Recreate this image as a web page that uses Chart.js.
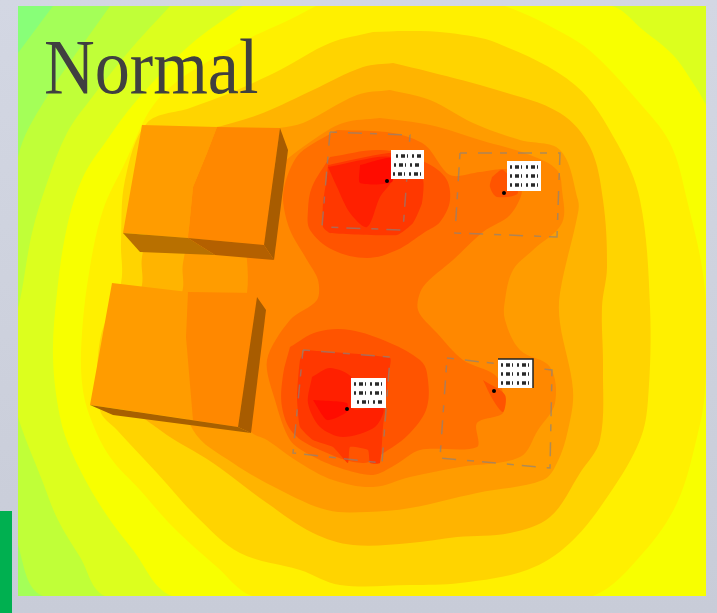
<!DOCTYPE html>
<html>
<head>
<meta charset="utf-8">
<title>Normal</title>
<script src="https://cdn.jsdelivr.net/npm/chart.js@4"></script>
<style>
html, body { margin: 0; padding: 0; width: 717px; height: 613px; overflow: hidden; }
body { position: relative; background: linear-gradient(#d3d7e3, #c8ccd8); }
#wrap { position: absolute; left: 18px; top: 6px; width: 688px; height: 590px; filter: blur(0.6px); }
#title { position: absolute; left: 44px; top: 28px; font: 78px/78px "Liberation Serif", serif; color: #404040;
         transform: scaleX(0.9); transform-origin: left top; white-space: nowrap; }
#bar { position: absolute; left: 0; top: 511px; width: 12px; height: 102px; background: #00b050; }
</style>
</head>
<body>
<div id="wrap"><canvas id="heatChart" width="688" height="590"></canvas></div>
<div id="title">Normal</div>
<div id="bar"></div>
<script>
// ==========================================
// Signal level contours, outermost first
// x / y in plan units of the plot
// ==========================================

const levelBase = [[-40,-40],[760,-40],[760,650],[-40,650]];
const cornerTopLeft = [[-40,-40],[53,6],[18,53]];
const levelB = [[110,6],[400,-40],[760,-40],[760,650],[300,650],[43,596],[18,545],[-20,400],[18,157],[45,100]];
const levelC = [[170,6],[400,-40],[760,-40],[760,650],[300,650],[105,596],[80,557],[58,520],[42,480],[18,417],[5,360],[20,300],[32,233],[47,183],[67,133],[90,100],[130,50]];
const levelD = [[243,6],[400,-40],[612,6],[643,30],[673,55],[693,83],[706,105],[750,200],[750,650],[400,650],[172,596],[133,550],[100,505],[72,453],[60,417],[53,357],[57,293],[67,227],[83,177],[107,140],[137,100],[190,45]];
const levelE = [[316,6],[410,-20],[505,6],[570,37],[597,57],[637,100],[670,143],[687,200],[705,290],[705,390],[697,437],[677,503],[643,553],[593,596],[420,640],[252,596],[217,567],[173,527],[140,490],[110,457],[90,417],[82,383],[82,333],[90,267],[103,210],[123,167],[160,97],[233,47],[293,18]];
const levelF = [[373,32],[410,31],[450,33],[497,43],[575,85],[617,143],[640,200],[650,307],[648,400],[640,440],[610,493],[570,543],[527,570],[460,583],[410,585],[340,585],[300,570],[240,553],[197,517],[157,473],[117,430],[100,410],[100,340],[121,283],[121,243],[125,180],[147,123],[190,108],[230,93],[280,70],[330,43]];
const levelG = [[393,63],[430,72],[497,90],[560,113],[590,147],[603,200],[607,267],[602,307],[603,367],[600,440],[580,473],[550,517],[510,533],[457,537],[410,543],[353,545],[313,533],[267,503],[213,463],[160,430],[130,400],[130,320],[142,285],[142,257],[160,180],[190,135],[225,125],[263,113],[313,90],[363,67]];
const levelH = [[390,90],[430,100],[473,123],[520,140],[560,150],[578,200],[578,213],[560,293],[560,323],[573,390],[568,430],[557,463],[543,480],[477,493],[410,508],[367,512],[327,510],[280,490],[233,463],[193,430],[170,350],[183,288],[183,263],[200,200],[260,135],[303,123],[357,95]];
const levelI = [[380,118],[430,125],[480,140],[530,155],[557,170],[562,190],[562,223],[533,250],[513,270],[505,300],[505,320],[520,350],[550,367],[555,403],[538,430],[520,457],[460,467],[410,477],[373,487],[333,480],[300,463],[267,440],[250,430],[235,350],[247,293],[247,260],[240,200],[280,165],[313,140],[343,123]];
const levelJ = [[337,130],[393,133],[425,145],[450,175],[480,172],[510,170],[522,190],[510,215],[483,232],[453,260],[423,287],[418,310],[437,333],[463,360],[495,375],[503,393],[503,413],[477,423],[477,447],[420,450],[395,465],[373,475],[340,468],[310,455],[290,440],[275,400],[267,360],[290,320],[317,300],[318,280],[307,260],[290,230],[283,200],[287,177],[300,153]];
const upperLeftOuter = [[330,157],[380,150],[420,160],[445,177],[450,200],[440,222],[425,232],[397,250],[367,258],[333,250],[310,230],[308,210],[312,187]];
const lowerLeftOuter = [[290,347],[317,332],[350,330],[390,343],[420,360],[427,373],[427,407],[410,433],[385,452],[363,463],[320,450],[293,433],[282,407],[283,375]];
const upperRightSpot = [[492,177],[503,170],[518,193],[497,197],[490,187]];
const lowerRightSpot = [[483,380],[505,395],[503,412],[493,400]];
const upperLeftInner = [[328,165],[393,153],[423,180],[422,203],[413,223],[397,235],[330,233],[323,227],[323,203],[327,177]];
const lowerLeftInner = [[305,350],[390,358],[388,377],[385,410],[383,427],[380,463],[370,463],[368,450],[350,447],[348,463],[333,447],[313,440],[300,427],[297,397],[300,360]];
const upperLeftHot = [[328,167],[392,157],[392,180],[380,197],[367,227],[350,213],[337,187]];
const lowerLeftHot = [[312,377],[330,368],[352,378],[352,408],[383,408],[375,427],[343,437],[320,427],[308,403]];
const upperLeftPeak = [[360,165],[392,158],[392,182],[360,183]];
const lowerLeftPeak = [[313,400],[347,403],[347,412],[327,420]];

const contourSeries = [levelBase, cornerTopLeft, levelB, levelC, levelD, levelE, levelF, levelG, levelH, levelI, levelJ,
    upperLeftOuter, lowerLeftOuter, upperRightSpot, lowerRightSpot, upperLeftInner, lowerLeftInner,
    upperLeftHot, lowerLeftHot, upperLeftPeak, lowerLeftPeak];
const contourColors = ["#a4ff58", "#88ff78", "#c0ff38", "#dcff1e", "#f8ff00", "#fff000", "#ffd400", "#ffb400", "#ff9c00", "#ff8800", "#ff7000",
    "#ff5400", "#ff5400", "#ff5400", "#ff5400", "#ff3800", "#ff3800",
    "#ff2000", "#ff2000", "#ff0c00", "#ff0c00"];
const contourTension = [0, 0, 0.35, 0.35, 0.35, 0.35, 0.35, 0.35, 0.35, 0.35, 0.3,
    0.35, 0.35, 0.3, 0.3, 0.15, 0.15,
    0.3, 0.3, 0.2, 0.2];

// Blocks, drawn as flat shapes over the contours
const upperRoofLeft = [[142,125],[217,127],[207,153],[193,187],[188,238],[123,233]];
const upperRoofRight = [[217,127],[280,128],[264,245],[188,238],[193,187],[207,153]];
const upperSide = [[280,128],[288,150],[274,260],[264,245]];
const upperFrontLeft = [[123,233],[188,238],[215,255],[140,252]];
const upperFrontRight = [[188,238],[264,245],[274,260],[215,255]];
const lowerRoofLeft = [[112,283],[188,292],[186,337],[193,420],[90,405]];
const lowerRoofRight = [[188,292],[257,293],[238,427],[193,420],[186,337]];
const lowerSide = [[257,297],[266,310],[251,433],[238,427]];
const lowerFront = [[90,405],[238,427],[251,433],[113,415]];

const blockSeries = [upperRoofLeft, upperRoofRight, upperSide, upperFrontLeft, upperFrontRight, lowerRoofLeft, lowerRoofRight, lowerSide, lowerFront];
const blockColors = ["#ff9c00", "#ff8800", "#a85c00", "#b87000", "#b46000", "#ff9c00", "#ff8800", "#a85c00", "#a86000"];

// Room outlines
const roomUpperLeft = [[330,132],[410,135],[403,230],[322,227],[330,132]];
const roomUpperRight = [[460,153],[560,153],[557,237],[455,233],[460,153]];
const roomLowerLeft = [[303,350],[390,357],[382,463],[293,453],[303,350]];
const roomLowerRight = [[447,358],[552,370],[550,468],[440,458],[447,358]];
const roomSeries = [roomUpperLeft, roomUpperRight, roomLowerLeft, roomLowerRight];

// Callout boxes and the points they mark
const calloutBoxes = [
    [[391,150],[424,150],[424,179],[391,179]],
    [[507,161],[541,161],[541,191],[507,191]],
    [[351,378],[386,378],[386,408],[351,408]],
    [[498,359],[533,359],[533,388],[498,388]]
];
const calloutMarks = [[387,181],[504,193],[347,409],[494,391]];
const calloutRows = [
    [[396,156],[421,156]], [[394,165],[421,165]], [[393,174],[422,174]],
    [[510,167],[538,167]], [[510,176],[538,176]], [[510,185],[538,185]],
    [[354,384],[383,384]], [[354,393],[383,393]], [[357,402],[383,402]],
    [[501,365],[530,365]], [[501,374],[530,374]], [[501,383],[530,383]]
];
const calloutEdge = [[498,359],[533,359],[533,388]];

const toPoints = function(list) {
    return list.map(function(p) { return {x: p[0], y: p[1]}; });
};
const closed = function(list) {
    return toPoints(list.concat([list[0]]));
};

const datasets = [];

contourSeries.forEach(function(series, i) {
    datasets.push({
        data: closed(series),
        showLine: true,
        fill: "shape",
        backgroundColor: contourColors[i],
        borderWidth: 0,
        pointRadius: 0,
        tension: contourTension[i]
    });
});

blockSeries.forEach(function(series, i) {
    datasets.push({
        data: closed(series),
        showLine: true,
        fill: "shape",
        backgroundColor: blockColors[i],
        borderWidth: 0,
        pointRadius: 0,
        tension: 0
    });
});

roomSeries.forEach(function(series) {
    datasets.push({
        data: toPoints(series),
        showLine: true,
        fill: false,
        borderColor: "rgba(130,130,130,0.65)",
        borderWidth: 1.5,
        borderDash: [7, 11, 14, 8],
        pointRadius: 0
    });
});

calloutBoxes.forEach(function(series) {
    datasets.push({
        data: closed(series),
        showLine: true,
        fill: "shape",
        backgroundColor: "#ffffff",
        borderWidth: 0,
        pointRadius: 0
    });
});

calloutRows.forEach(function(series) {
    datasets.push({
        data: toPoints(series),
        showLine: true,
        fill: false,
        borderColor: "#2a2a2a",
        borderWidth: 3.5,
        borderDash: [2, 3, 4, 2, 1, 4],
        pointRadius: 0
    });
});

datasets.push({
    data: toPoints(calloutEdge),
    showLine: true,
    fill: false,
    borderColor: "#222222",
    borderWidth: 1.5,
    pointRadius: 0
});

datasets.push({
    data: toPoints(calloutMarks),
    showLine: false,
    pointRadius: 2,
    pointBackgroundColor: "#000000",
    pointBorderWidth: 0
});

// first dataset has to paint first
datasets.forEach(function(d, i) {
    d.order = datasets.length - i;
});

new Chart(document.getElementById("heatChart").getContext("2d"), {
    type: "scatter",
    data: { datasets: datasets },
    options: {
        responsive: false,
        animation: false,
        layout: { padding: 0, autoPadding: false },
        elements: { line: { capBezierPoints: false } },
        plugins: {
            legend: { display: false },
            tooltip: { enabled: false }
        },
        scales: {
            x: { type: "linear", min: 18, max: 706, display: false },
            y: { type: "linear", min: 6, max: 596, reverse: true, display: false }
        }
    }
});
</script>
</body>
</html>
